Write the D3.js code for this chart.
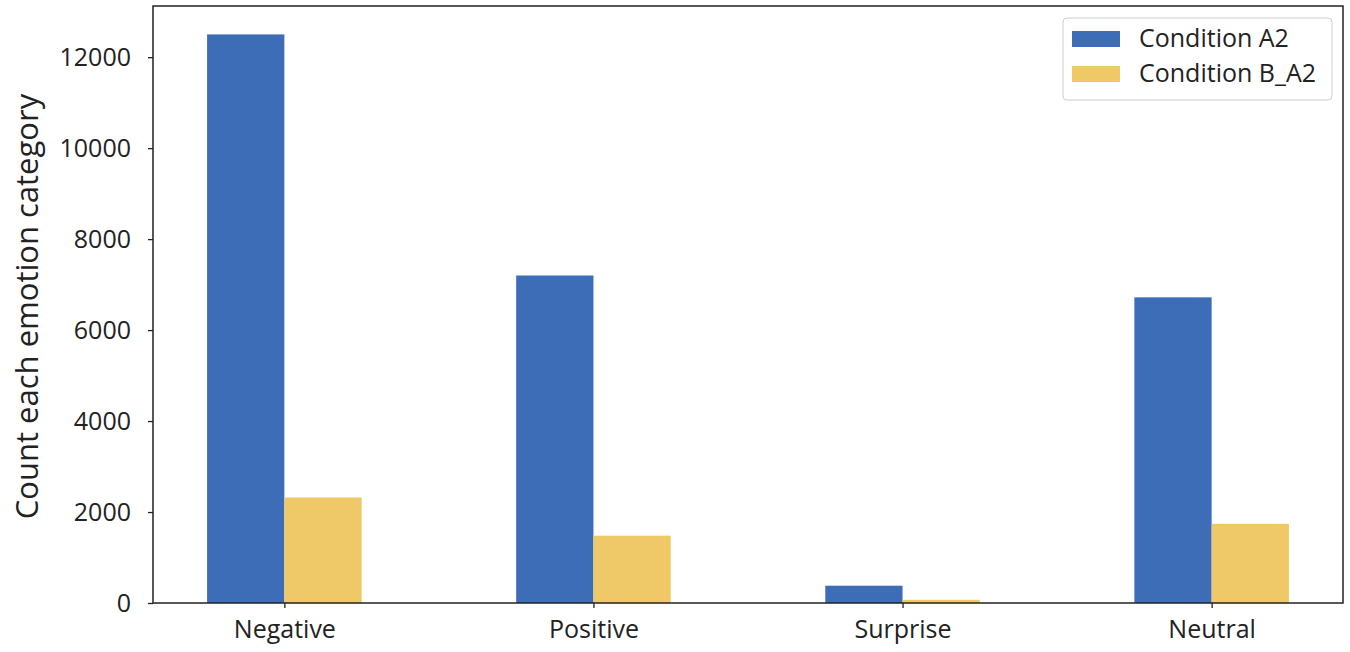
<!DOCTYPE html>
<html><head><meta charset="utf-8">
<script src="https://cdn.jsdelivr.net/npm/d3@7"></script>
<style>body{margin:0;background:#fff}text{font-family:"Open Sans",sans-serif}</style>
</head><body><svg id="c" width="1350" height="652"></svg>
<script>
const categories = ["Negative","Positive","Surprise","Neutral"];
const seriesNames = ["Condition A2","Condition B_A2"];
const valuesA2 = [12500, 7200, 380, 6720];
const valuesBA2 = [2320, 1480, 70, 1740];
const yTicks = [0,2000,4000,6000,8000,10000,12000];
const colors = ["#3d6db6","#efc867"];

const svg = d3.select("#c");
const L=153,R=1343,T=6,B=603;
const x = d3.scaleLinear().domain([-0.425,3.425]).range([L,R]);
const y = d3.scaleLinear().domain([0,12500*1.05]).range([B,T]);
const w = 0.25;
const series=[valuesA2,valuesBA2];
series.forEach((vals,si)=>{
  svg.append("g").selectAll("rect").data(vals).join("rect")
    .attr("x",(d,i)=>x(i-w+si*w)).attr("width",x(w)-x(0))
    .attr("y",d=>y(d)).attr("height",d=>B-y(d)).attr("fill",colors[si]);
});
const ya = svg.append("g").attr("transform",`translate(${L},0)`)
  .call(d3.axisLeft(y).tickValues(yTicks).tickSize(5).tickPadding(17).tickFormat(d3.format("d")));
const xa = svg.append("g").attr("transform",`translate(0,${B})`)
  .call(d3.axisBottom(x).tickValues(d3.range(categories.length)).tickSize(5).tickPadding(12).tickFormat(i=>categories[i]));
[ya,xa].forEach(a=>{a.select(".domain").remove();a.selectAll("text").attr("font-size",25).attr("fill","#222").attr("font-family","Open Sans");a.selectAll("line").attr("stroke","#222").attr("stroke-width",1.3);});
svg.append("rect").attr("x",L).attr("y",T).attr("width",R-L).attr("height",B-T).attr("fill","none").attr("stroke","#222").attr("stroke-width",1.5);
svg.append("text").attr("transform",`translate(38,${(T+B)/2+2}) rotate(-90)`).attr("text-anchor","middle")
  .attr("font-size",31).attr("fill","#222").text("Count each emotion category");
const lg = svg.append("g");
lg.append("rect").attr("x",1063).attr("y",18).attr("width",269).attr("height",82).attr("rx",4)
  .attr("fill","#fff").attr("stroke","#ccc");
seriesNames.forEach((n,i)=>{
  lg.append("rect").attr("x",1072).attr("y",31+i*35).attr("width",48).attr("height",16).attr("fill",colors[i]);
  lg.append("text").attr("x",1139).attr("y",47+i*35).attr("font-size",25).attr("fill","#222").text(n);
});
</script></body></html>
